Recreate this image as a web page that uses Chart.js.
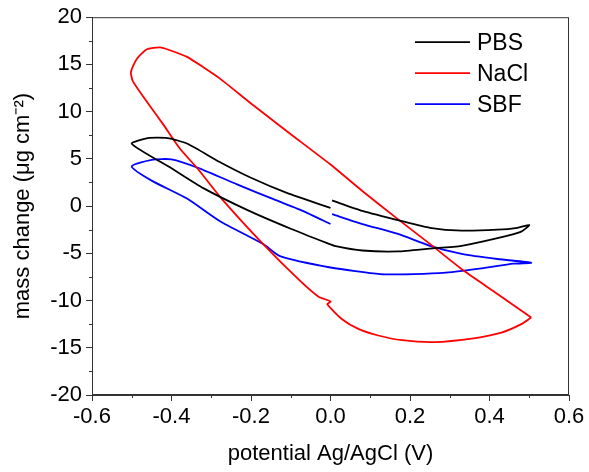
<!DOCTYPE html>
<html>
<head>
<meta charset="utf-8">
<script src="https://cdn.jsdelivr.net/npm/chart.js@4"></script>
<style>
  html, body { margin: 0; padding: 0; background: #fff; }
  #wrap { width: 589px; height: 472px; }
</style>
</head>
<body>
<div id="wrap"><canvas id="myChart" width="589" height="472"></canvas></div>
<script>
// series: potential (V) and mass change (ug cm-2)
let pbsX = [0.004, 0.08, 0.18, 0.25, 0.33, 0.42, 0.47, 0.50, 0.48, 0.42, 0.33, 0.25, 0.17, 0.08, 0.01, -0.01, -0.10, -0.21, -0.32, -0.40, -0.50, -0.46, -0.41, -0.36, -0.28, -0.20, -0.11, 0.0]
let pbsY = [0.6, -0.5, -1.6, -2.3, -2.6, -2.5, -2.3, -2.0, -2.7, -3.4, -4.2, -4.5, -4.8, -4.7, -4.2, -3.9, -2.4, -0.4, 1.9, 4.0, 6.6, 7.2, 7.2, 6.6, 4.7, 3.0, 1.4, -0.2]

let naclX = [0.505, 0.42, 0.334, 0.25, 0.167, 0.08, 0.0, -0.109, -0.195, -0.278, -0.32, -0.361, -0.404, -0.429, -0.462, -0.487, -0.502, -0.497, -0.462, -0.42, -0.379, -0.333, -0.273, -0.17, -0.077, -0.03, 0.0, -0.008, 0.03, 0.07, 0.12, 0.18, 0.26, 0.36, 0.43, 0.48, 0.505]
let naclY = [-11.8, -9.3, -6.8, -4.0, -1.3, 1.6, 4.4, 7.9, 10.7, 13.5, 14.7, 15.8, 16.5, 16.8, 16.6, 15.6, 14.2, 13.2, 11.05, 8.6, 6.1, 3.9, 0.74, -4.0, -7.9, -9.6, -10.1, -10.4, -12.0, -13.0, -13.7, -14.2, -14.4, -14.0, -13.4, -12.5, -11.8]

let sbfX = [0.004, 0.08, 0.17, 0.25, 0.33, 0.42, 0.505, 0.46, 0.38, 0.29, 0.21, 0.125, 0.0, -0.127, -0.17, -0.278, -0.361, -0.45, -0.50, -0.45, -0.40, -0.33, -0.235, -0.15, -0.07, 0.0]
let sbfY = [-0.85, -1.9, -2.95, -4.2, -5.05, -5.6, -6.0, -6.1, -6.6, -7.05, -7.2, -7.2, -6.5, -5.3, -4.0, -1.6, 0.8, 2.7, 4.2, 4.9, 4.95, 4.0, 2.3, 0.84, -0.5, -1.9]

let names = ['PBS', 'NaCl', 'SBF']
let colors = ['#000000', '#ff0000', '#0000ff']

function pts(xs, ys) {
    return xs.map((x, i) => ({ x: x, y: ys[i] }))
}

let fontFam = "'Liberation Sans', Arial, sans-serif"

// minor ticks, frame and in-plot legend
let extras = {
    id: 'extras',
    afterDraw(chart) {
        let c = chart.ctx
        let a = chart.chartArea
        let xs = chart.scales.x
        let ys = chart.scales.y
        c.save()
        c.strokeStyle = '#333'
        c.lineWidth = 1
        c.strokeRect(a.left + 0.5, a.top + 0.5, a.right - a.left - 1, a.bottom - a.top - 1)
        c.beginPath()
        for (let v = -0.5; v < 0.6; v += 0.2) {
            let px = Math.round(xs.getPixelForValue(v)) + 0.5
            c.moveTo(px, a.bottom)
            c.lineTo(px, a.bottom + 3)
        }
        for (let v = -17.5; v < 20; v += 5) {
            let py = Math.round(ys.getPixelForValue(v)) + 0.5
            c.moveTo(a.left, py)
            c.lineTo(a.left - 3, py)
        }
        c.stroke()

        c.font = '23px ' + fontFam
        c.textBaseline = 'middle'
        c.textAlign = 'left'
        for (let i = 0; i < names.length; i++) {
            let y = a.top + 25 + i * 31
            c.strokeStyle = colors[i]
            c.lineWidth = 1.8
            c.beginPath()
            c.moveTo(a.right - 154, y)
            c.lineTo(a.right - 99, y)
            c.stroke()
            c.fillStyle = '#000'
            c.fillText(names[i], a.right - 92, y + 1)
        }
        c.restore()
    }
}

let ctx = document.getElementById('myChart').getContext('2d')

let chart = new Chart(ctx, {
    type: 'scatter',
    data: {
        datasets: [
            { label: names[0], data: pts(pbsX, pbsY), borderColor: colors[0] },
            { label: names[1], data: pts(naclX, naclY), borderColor: colors[1] },
            { label: names[2], data: pts(sbfX, sbfY), borderColor: colors[2] }
        ].map(d => Object.assign(d, {
            showLine: true,
            borderWidth: 1.8,
            pointRadius: 0,
            tension: 0.2,
            fill: false
        }))
    },
    options: {
        responsive: false,
        animation: false,
        layout: { padding: { top: 15, right: 20, left: 0, bottom: 0 } },
        plugins: {
            legend: { display: false },
            tooltip: { enabled: false }
        },
        scales: {
            x: {
                type: 'linear',
                min: -0.6,
                max: 0.6,
                afterFit(s) { s.height = 77 },
                border: { display: true, color: '#333', width: 1 },
                grid: { drawOnChartArea: false, drawTicks: true, tickLength: 6, color: '#333' },
                ticks: {
                    stepSize: 0.2,
                    padding: 3,
                    color: '#000',
                    font: { family: fontFam, size: 22 },
                    callback: v => Math.abs(v) < 1e-9 ? '0.0' : v.toFixed(1)
                },
                title: {
                    display: true,
                    text: 'potential Ag/AgCl (V)',
                    color: '#000',
                    font: { family: fontFam, size: 22 },
                    padding: { top: 0, bottom: 5 }
                }
            },
            y: {
                type: 'linear',
                min: -20,
                max: 20,
                afterFit(s) { s.width = 92 },
                border: { display: true, color: '#333', width: 1 },
                grid: { drawOnChartArea: false, drawTicks: true, tickLength: 6, color: '#333' },
                ticks: {
                    stepSize: 5,
                    padding: 4,
                    color: '#000',
                    font: { family: fontFam, size: 22 }
                },
                title: {
                    display: true,
                    text: 'mass change (μg cm⁻²)',
                    color: '#000',
                    font: { family: fontFam, size: 22 },
                    padding: { top: 10, bottom: 0 }
                }
            }
        }
    },
    plugins: [extras]
})
</script>
</body>
</html>
